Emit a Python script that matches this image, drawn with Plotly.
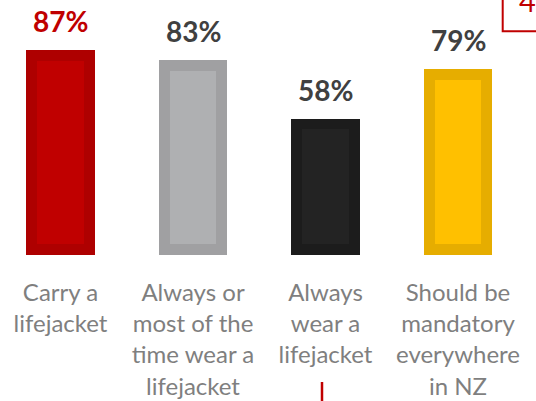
import plotly.graph_objects as go

categories = ["Carry a<br>lifejacket",
              "Always or<br>most of the<br>time wear a<br>lifejacket",
              "Always<br>wear a<br>lifejacket",
              "Should be<br>mandatory<br>everywhere<br>in NZ"]
values = [87, 83, 58, 79]
value_labels = ["87%", "83%", "58%", "79%"]
outer_colors = ["#AE0000", "#A0A0A2", "#1C1C1C", "#E6AD00"]
inner_colors = ["#C00000", "#AFB0B2", "#232323", "#FFC000"]
label_colors = ["#C00000", "#404040", "#404040", "#404040"]

W, H = 536, 401
Y_TOP = 108.4
PLOT_H = 255
border = 10.8 * Y_TOP / PLOT_H

fig = go.Figure()
fig.add_trace(go.Bar(x=categories, y=values, width=0.517,
                     marker=dict(color=outer_colors, line=dict(width=0)),
                     hoverinfo="skip"))
fig.add_trace(go.Bar(x=categories, y=[v - 2 * border for v in values],
                     base=[border] * len(values), width=0.354,
                     marker=dict(color=inner_colors, line=dict(width=0)),
                     hoverinfo="skip"))

for c, v, t, col in zip(categories, values, value_labels, label_colors):
    fig.add_annotation(x=c, y=v, text="<b>%s</b>" % t, showarrow=False,
                       yanchor="middle", yshift=29,
                       font=dict(family="Lato", size=28, color=col))

# partial elements at the crop edges
fig.add_shape(type="rect", xref="paper", yref="paper",
              x0=502.7 / W, x1=1.2, y0=(PLOT_H - 31.3) / PLOT_H, y1=1.3,
              line=dict(color="#C00000", width=2), fillcolor="rgba(0,0,0,0)")
fig.add_annotation(xref="paper", yref="paper", x=517 / W, y=(PLOT_H - 1) / PLOT_H,
                   xanchor="left", yanchor="middle", text="4", showarrow=False,
                   font=dict(family="Lato", size=29, color="#C00000"))
fig.add_shape(type="line", xref="paper", yref="paper",
              x0=322 / W, x1=322 / W, y0=(PLOT_H - 382) / PLOT_H, y1=(PLOT_H - 405) / PLOT_H,
              line=dict(color="#C00000", width=2.5))

fig.update_layout(
    width=W, height=H, barmode="overlay", bargap=0,
    margin=dict(l=0, r=0, t=0, b=H - PLOT_H, autoexpand=False),
    paper_bgcolor="white", plot_bgcolor="white",
    showlegend=False,
    xaxis=dict(range=[-60.5 / 132.5, (W - 60.5) / 132.5], showgrid=False,
               zeroline=False, showline=False, ticks="", automargin=False,
               tickfont=dict(family="Lato", size=24, color="#7F7F7F"),
               ticklabelstandoff=21),
    yaxis=dict(range=[0, Y_TOP], visible=False, showgrid=False, zeroline=False,
               automargin=False),
)

fig.write_html("out.html", config={"displayModeBar": False},
               post_script="document.body.style.margin='0';document.body.style.overflow='hidden';")
